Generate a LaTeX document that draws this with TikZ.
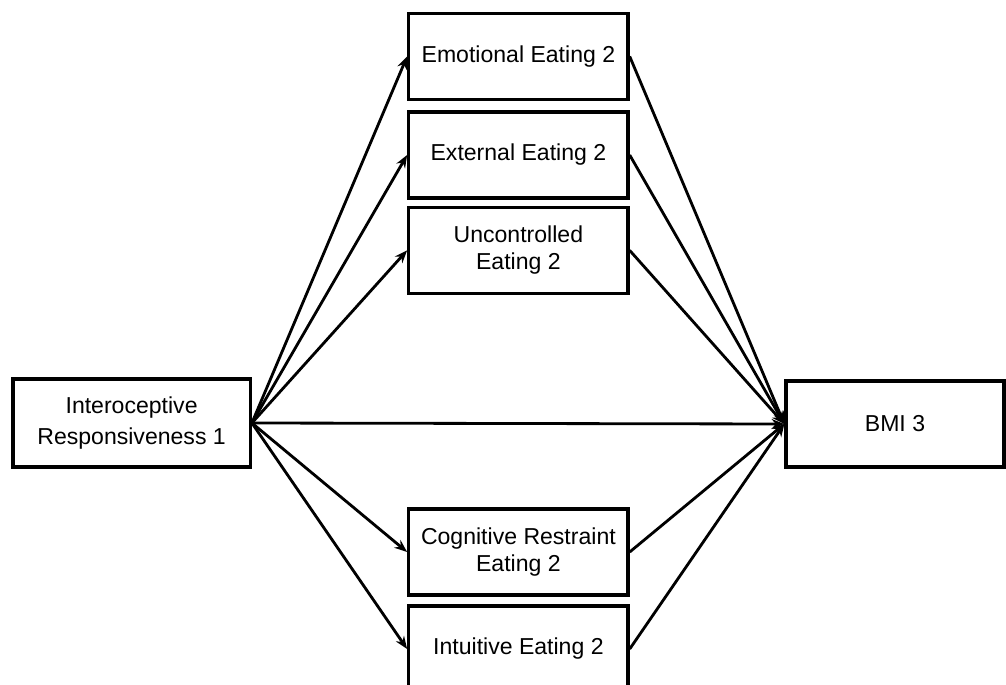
\documentclass[tikz,border=0pt]{standalone}
\usepackage{fontspec}
\setmainfont{Liberation Sans}
\usetikzlibrary{arrows.meta}

\tikzset{
  varbox/.style={draw, line width=2.4pt, fill=white, align=center,
    inner sep=0pt, font=\fontsize{16.4}{19.2}\selectfont},
  midbox/.style={varbox, minimum width=5.48cm, minimum height=2.15cm},
  path/.style={line width=2pt, -{Stealth[length=9pt,width=7pt]}}
}

\begin{document}
\begin{tikzpicture}
    \useasboundingbox (0,0) rectangle (25.15,-17.125);

    % predictor and outcome
    \node[varbox, minimum width=5.93cm, minimum height=2.2cm,
          font=\fontsize{16.4}{21.5}\selectfont] (ir) at (3.29,-10.575) {Interoceptive\\Responsiveness 1};
    \node[varbox, minimum width=5.45cm, minimum height=2.15cm] (bmi) at (22.375,-10.6) {BMI 3};

    % mediators
    \node[midbox] (emo)  at (12.96,-1.41)   {Emotional Eating 2};
    \node[midbox] (ext)  at (12.96,-3.875)  {External Eating 2};
    \node[midbox] (unc)  at (12.96,-6.26)   {Uncontrolled\\Eating 2};
    \node[midbox] (cog)  at (12.96,-13.8)   {Cognitive Restraint\\Eating 2};
    \node[midbox] (intu) at (12.96,-16.225) {Intuitive Eating 2};

    \foreach \m in {emo,ext,unc,cog,intu} {
        \draw[path] (ir.east) -- (\m.west);
        \draw[path] (\m.east) -- (bmi.west);
    }
    \draw[path] (ir.east) -- (bmi.west);
\end{tikzpicture}
\end{document}
